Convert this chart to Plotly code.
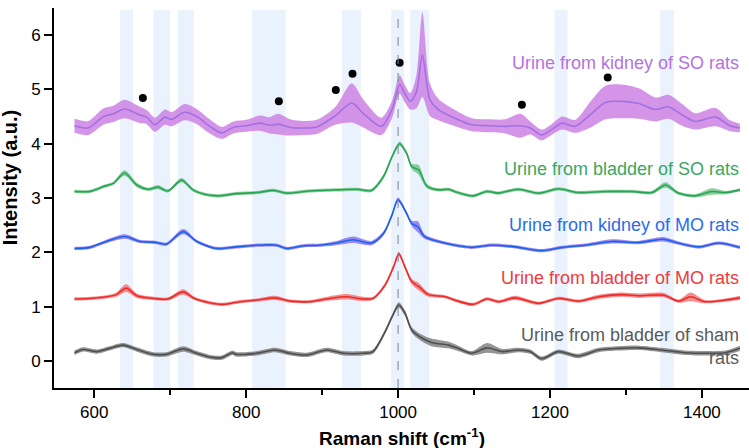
import plotly.graph_objects as go

# ---------------- data ----------------
bands = [(634, 651), (678, 700), (710, 731), (808, 852), (926, 951),
         (991, 1008), (1016, 1041), (1206, 1223), (1345, 1363)]

dots_x = [664, 843, 918, 940, 1002, 1032, 1163, 1276]
dots_y = [4.84, 4.78, 4.99, 5.29, 5.49, 6.59, 4.72, 5.22]

kso_x = [574, 592, 612, 625, 640, 660, 669, 680, 693, 702, 719, 735, 752, 768, 783, 800, 818, 831,
         842, 858, 875, 893, 917, 939, 954, 978, 992, 1002, 1009, 1016, 1024, 1032, 1042, 1053,
         1075, 1097, 1119, 1141, 1161, 1174, 1189, 1202, 1216, 1233, 1255, 1273, 1295, 1317,
         1339, 1356, 1374, 1391, 1418, 1437, 1450]
kso_mean = [4.33, 4.29, 4.50, 4.55, 4.64, 4.53, 4.49, 4.35, 4.49, 4.45, 4.58, 4.50, 4.32, 4.20,
            4.30, 4.33, 4.38, 4.34, 4.36, 4.30, 4.29, 4.31, 4.51, 4.75, 4.56, 4.32, 4.63, 5.09,
            4.92, 4.78, 4.95, 5.64, 4.81, 4.63, 4.47, 4.35, 4.33, 4.32, 4.33, 4.29, 4.16, 4.26,
            4.38, 4.32, 4.56, 4.76, 4.78, 4.74, 4.63, 4.68, 4.53, 4.41, 4.49, 4.33, 4.29]
kso_sd = [0.13, 0.13, 0.15, 0.15, 0.17, 0.15, 0.13, 0.13, 0.14, 0.13, 0.15, 0.14, 0.13, 0.11,
          0.11, 0.11, 0.14, 0.15, 0.19, 0.15, 0.13, 0.13, 0.16, 0.36, 0.26, 0.16, 0.16, 0.17,
          0.16, 0.15, 0.3, 0.78, 0.3, 0.2, 0.15, 0.12, 0.12, 0.13, 0.22, 0.12, 0.1, 0.1,
          0.12, 0.12, 0.25, 0.31, 0.31, 0.28, 0.22, 0.22, 0.2, 0.15, 0.17, 0.1, 0.08]

bso_x = [574, 594, 612, 625, 640, 656, 671, 684, 697, 715, 730, 748, 765, 787, 814, 836, 853, 884,
         919, 946, 965, 981, 992, 1002, 1011, 1018, 1027, 1038, 1053, 1066, 1079, 1099, 1117,
         1132, 1158, 1185, 1211, 1237, 1273, 1308, 1334, 1352, 1369, 1391, 1413, 1431, 1450]
bso_mean = [3.12, 3.12, 3.21, 3.27, 3.46, 3.24, 3.16, 3.20, 3.13, 3.33, 3.15, 3.06, 3.04, 3.08,
            3.10, 3.14, 3.09, 3.13, 3.15, 3.16, 3.14, 3.40, 3.76, 4.00, 3.83, 3.58, 3.52, 3.22,
            3.15, 3.16, 3.10, 3.04, 3.12, 3.09, 3.16, 3.09, 3.17, 3.10, 3.12, 3.12, 3.10, 3.24,
            3.09, 3.04, 3.12, 3.10, 3.15]
bso_sd = [0.03, 0.03, 0.03, 0.03, 0.05, 0.04, 0.03, 0.04, 0.03, 0.04, 0.03, 0.03, 0.03, 0.03,
          0.03, 0.03, 0.03, 0.03, 0.03, 0.03, 0.03, 0.04, 0.04, 0.04, 0.04, 0.05, 0.09, 0.04,
          0.03, 0.03, 0.03, 0.03, 0.03, 0.03, 0.03, 0.03, 0.03, 0.03, 0.03, 0.03, 0.03, 0.05,
          0.03, 0.03, 0.06, 0.03, 0.03]

kmo_x = [574, 594, 612, 640, 660, 682, 695, 717, 735, 761, 787, 814, 840, 853, 875, 897, 919, 941,
         965, 981, 992, 1000, 1011, 1018, 1026, 1035, 1053, 1075, 1097, 1123, 1154, 1189, 1216,
         1246, 1281, 1316, 1349, 1369, 1396, 1422, 1450]
kmo_mean = [2.07, 2.09, 2.18, 2.29, 2.20, 2.18, 2.15, 2.38, 2.20, 2.07, 2.10, 2.13, 2.13, 2.07,
            2.12, 2.13, 2.17, 2.23, 2.17, 2.35, 2.69, 2.97, 2.72, 2.53, 2.47, 2.29, 2.20, 2.13,
            2.09, 2.13, 2.10, 2.03, 2.09, 2.13, 2.20, 2.18, 2.24, 2.17, 2.10, 2.17, 2.09]
kmo_sd = [0.03, 0.03, 0.03, 0.04, 0.03, 0.03, 0.03, 0.05, 0.03, 0.03, 0.03, 0.03, 0.03, 0.03,
          0.03, 0.03, 0.04, 0.06, 0.04, 0.04, 0.04, 0.04, 0.04, 0.05, 0.1, 0.04, 0.03, 0.03,
          0.03, 0.03, 0.03, 0.03, 0.03, 0.03, 0.04, 0.03, 0.04, 0.03, 0.03, 0.03, 0.03]

bmo_x = [574, 594, 616, 629, 642, 656, 678, 697, 717, 732, 752, 770, 792, 814, 838, 858, 884, 910,
         932, 954, 967, 983, 994, 1001, 1009, 1018, 1027, 1040, 1062, 1079, 1099, 1117, 1132,
         1154, 1185, 1211, 1237, 1264, 1295, 1317, 1350, 1369, 1385, 1404, 1431, 1450]
bmo_mean = [1.14, 1.15, 1.18, 1.22, 1.34, 1.20, 1.15, 1.14, 1.27, 1.15, 1.07, 1.04, 1.09, 1.12,
            1.16, 1.10, 1.09, 1.15, 1.18, 1.14, 1.15, 1.40, 1.73, 1.97, 1.73, 1.46, 1.37, 1.22,
            1.18, 1.10, 1.04, 1.14, 1.09, 1.16, 1.06, 1.15, 1.10, 1.18, 1.22, 1.20, 1.21, 1.10,
            1.18, 1.09, 1.12, 1.16]
bmo_sd = [0.03, 0.03, 0.03, 0.04, 0.07, 0.04, 0.03, 0.03, 0.05, 0.03, 0.03, 0.03, 0.03, 0.03,
          0.04, 0.03, 0.03, 0.04, 0.05, 0.04, 0.03, 0.04, 0.04, 0.04, 0.04, 0.05, 0.07, 0.04,
          0.03, 0.03, 0.03, 0.03, 0.03, 0.04, 0.03, 0.03, 0.03, 0.04, 0.04, 0.04, 0.04, 0.03,
          0.08, 0.03, 0.03, 0.04]

sham_x = [574, 585, 603, 620, 638, 656, 678, 695, 717, 735, 752, 768, 782, 787, 814, 838, 858,
          880, 906, 928, 954, 967, 983, 992, 1001, 1009, 1018, 1029, 1044, 1066, 1079, 1097,
          1117, 1137, 1158, 1174, 1189, 1211, 1237, 1264, 1290, 1317, 1347, 1378, 1404, 1431, 1450]
sham_mean = [0.15, 0.21, 0.17, 0.23, 0.29, 0.21, 0.12, 0.12, 0.22, 0.14, 0.07, 0.06, 0.15, 0.12,
             0.14, 0.20, 0.14, 0.11, 0.20, 0.14, 0.14, 0.17, 0.54, 0.81, 1.03, 0.88, 0.57, 0.44,
             0.34, 0.29, 0.23, 0.14, 0.24, 0.17, 0.20, 0.17, 0.04, 0.17, 0.09, 0.20, 0.23, 0.24,
             0.20, 0.15, 0.14, 0.15, 0.23]
sham_sd = [0.04, 0.04, 0.04, 0.04, 0.04, 0.04, 0.04, 0.04, 0.05, 0.04, 0.04, 0.04, 0.04, 0.04,
           0.04, 0.04, 0.04, 0.04, 0.04, 0.04, 0.04, 0.04, 0.04, 0.04, 0.05, 0.05, 0.05, 0.06,
           0.07, 0.06, 0.05, 0.04, 0.09, 0.05, 0.04, 0.04, 0.04, 0.04, 0.04, 0.04, 0.04, 0.04,
           0.04, 0.04, 0.04, 0.04, 0.05]

labels = ["Urine from kidney of SO rats", "Urine from bladder of SO rats",
          "Urine from kidney of MO rats", "Urine from bladder of MO rats",
          "Urine from bladder of sham<br>rats"]
label_y = [5.49, 3.53, 2.50, 1.52, 0.27]

x_ticks = [600, 800, 1000, 1200, 1400]
y_ticks = [0, 1, 2, 3, 4, 5, 6]

# ---------------- styling ----------------
series = [
    (kso_x, kso_mean, kso_sd, "#a470e0", "rgba(205,130,228,0.85)", "#b571e0"),
    (bso_x, bso_mean, bso_sd, "#2aa558", "rgba(110,195,130,0.8)", "#3aa860"),
    (kmo_x, kmo_mean, kmo_sd, "#1f62ea", "rgba(130,110,240,0.8)", "#2c6ce8"),
    (bmo_x, bmo_mean, bmo_sd, "#f02a2a", "rgba(240,115,115,0.8)", "#f03c3c"),
    (sham_x, sham_mean, sham_sd, "#4f4f4f", "rgba(130,130,130,0.85)", "#5a5a5a"),
]

FONT = "Arial, Liberation Sans, sans-serif"
fig = go.Figure()

for xs, m, s, lc, fc, tc in series:
    lo = [a - b for a, b in zip(m, s)]
    hi = [a + b for a, b in zip(m, s)]
    fig.add_trace(go.Scatter(x=xs, y=lo, mode="lines", line=dict(width=0, shape="spline", smoothing=0.8),
                             hoverinfo="skip", showlegend=False))
    fig.add_trace(go.Scatter(x=xs, y=hi, mode="lines", line=dict(width=0, shape="spline", smoothing=0.8),
                             fill="tonexty", fillcolor=fc, hoverinfo="skip", showlegend=False))
    fig.add_trace(go.Scatter(x=xs, y=m, mode="lines", line=dict(color=lc, width=1.6, shape="spline", smoothing=0.8),
                             showlegend=False))

fig.add_trace(go.Scatter(x=dots_x, y=dots_y, mode="markers",
                         marker=dict(color="black", size=8), cliponaxis=False, showlegend=False))

shapes = []
for a, b in bands:
    shapes.append(dict(type="rect", xref="x", yref="paper", x0=a, x1=b, y0=0, y1=0.995,
                       fillcolor="#eaf2fd", line=dict(width=0), layer="below"))
shapes.append(dict(type="line", xref="x", yref="paper", x0=1000, x1=1000, y0=0, y1=0.995,
                   line=dict(color="#7d8590", width=1, dash="dash"), layer="above"))

annotations = []
for (xs, m, s, lc, fc, tc), t, yv in zip(series, labels, label_y):
    annotations.append(dict(x=1451, y=yv, xref="x", yref="y", text=t, showarrow=False,
                            xanchor="right", yanchor="middle", align="right",
                            font=dict(family=FONT, size=18, color=tc)))
annotations.append(dict(x=0.5, y=-0.13, xref="paper", yref="paper",
                        text="<b>Raman shift (cm<sup>-1</sup>)</b>", showarrow=False,
                        xanchor="center", yanchor="middle",
                        font=dict(family=FONT, size=19, color="black")))
annotations.append(dict(x=-0.063, y=0.555, xref="paper", yref="paper",
                        text="<b>Intensity (a.u.)</b>", showarrow=False, textangle=-90,
                        xanchor="center", yanchor="middle",
                        font=dict(family=FONT, size=20, color="black")))

fig.update_layout(
    width=749, height=448,
    margin=dict(l=54, r=0, t=8, b=60),
    paper_bgcolor="white", plot_bgcolor="white",
    shapes=shapes, annotations=annotations,
    font=dict(family=FONT, size=17, color="black"),
    showlegend=False,
)
fig.update_xaxes(range=[547, 1462], tickvals=x_ticks, ticktext=[str(v) for v in x_ticks],
                 showgrid=False, zeroline=False, showline=True, linecolor="black", linewidth=2,
                 ticks="outside", ticklen=8, tickwidth=2, tickcolor="black",
                 minor=dict(tickvals=[700, 900, 1100, 1300], ticks="outside", ticklen=5,
                            tickwidth=2, tickcolor="black"),
                 tickfont=dict(family=FONT, size=17, color="black"))
fig.update_yaxes(range=[-0.5, 6.5], tickvals=y_ticks, ticktext=[str(v) for v in y_ticks],
                 showgrid=False, zeroline=False, showline=True, linecolor="black", linewidth=2,
                 ticks="outside", ticklen=8, tickwidth=2, tickcolor="black",
                 minor=dict(tickvals=[-0.5 + 0.5 * i for i in range(14) if (i % 2 == 1)],
                            ticks="outside", ticklen=5, tickwidth=2, tickcolor="black"),
                 tickfont=dict(family=FONT, size=17, color="black"))

fig.write_html("out.html", config={"displayModeBar": False},
               post_script="document.body.style.margin='0';document.body.style.overflow='hidden';")
